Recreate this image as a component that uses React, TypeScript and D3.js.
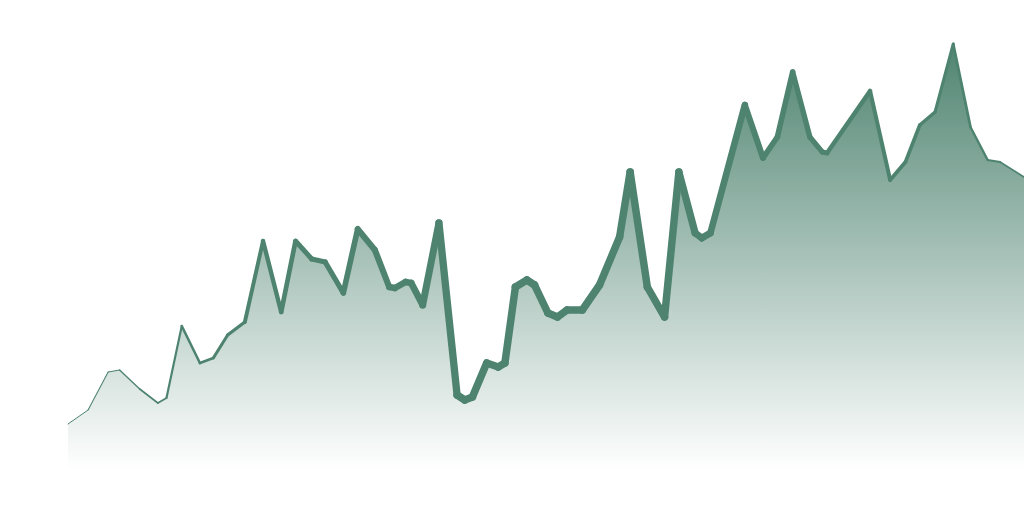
import React from 'react';
import * as d3 from 'd3';

// x position of each sample (0-100 across the chart)
const days = [
  0, 2.1, 4.2, 5.4, 7.5, 9.4, 10.3, 11.9, 13.8, 15.2, 16.7, 18.5, 20.4, 22.3, 23.8, 25.5, 26.9,
  28.8, 30.3, 32.1, 33.6, 34.2, 35.3, 35.9, 37.1, 38.8, 40.7, 41.5, 42.3, 43.8, 45.0, 45.7, 46.8,
  48.0, 48.8, 50.2, 51.2, 52.2, 53.8, 55.6, 57.7, 58.8, 60.6, 62.4, 63.9, 65.6, 66.3, 67.2, 70.8,
  72.7, 74.2, 75.8, 77.6, 78.9, 79.4, 83.9, 86.0, 87.6, 89.1, 90.7, 92.6, 94.4, 96.2, 97.5, 100,
];

// value series
const values = [
  11.5, 15, 24.5, 25, 20.25, 16.75, 18, 36, 26.75, 28, 33.75, 37, 57.25, 39.5, 57.25, 52.75, 52,
  44.25, 60.25, 55, 45.75, 45.5, 47, 46.75, 41.25, 61.75, 18.75, 17.5, 18.25, 26.75, 25.75, 26.75,
  45.75, 47.5, 46.25, 39.25, 38.25, 40, 40, 46.25, 58.25, 74.5, 45.75, 38.25, 74.5, 59.25, 58,
  59.25, 91.25, 78, 83.25, 99.5, 83.25, 79.5, 79.25, 94.75, 72.5, 77, 86.25, 89.5, 106.5, 85.75,
  77.5, 77, 73.25,
];

// secondary series, shown as line thickness
const volume = [
  0, 0, 2, 4, 8, 12, 14, 22, 26, 30, 34, 40, 50, 55, 58, 62, 64, 68, 74, 78, 82, 84, 86, 88, 90,
  94, 100, 100, 100, 100, 100, 100, 100, 100, 100, 100, 100, 100, 100, 100, 100, 100, 100, 100,
  98, 94, 92, 90, 84, 72, 70, 68, 66, 62, 60, 48, 44, 42, 38, 34, 30, 24, 18, 14, 8,
];

const W = 1024;
const H = 512;
const color = '#4e8370';

type Pt = { d: number; v: number; w: number };

export default function App() {
  const data: Pt[] = days.map((d, i) => ({ d, v: values[i], w: volume[i] }));

  const x = d3.scaleLinear().domain([0, 100]).range([68, 1024]);
  const y = d3.scaleLinear().domain([0, 110]).range([470, 30]);
  const sw = d3.scaleLinear().domain([0, 100]).range([1, 7.5]);

  const area = d3
    .area<Pt>()
    .x((p) => x(p.d))
    .y0(y(0))
    .y1((p) => y(p.v));

  const seg = d3
    .line<Pt>()
    .x((p) => x(p.d))
    .y((p) => y(p.v));

  // one piece per pair of points so the width can change along the line
  const segments = d3.pairs(data);

  return (
    <svg width={W} height={H} style={{ position: 'absolute', left: 0, top: 0 }}>
      <defs>
        <linearGradient id="fade" gradientUnits="userSpaceOnUse" x1={0} x2={0} y1={y(108)} y2={y(0)}>
          <stop offset="0%" stopColor={color} stopOpacity={1} />
          <stop offset="100%" stopColor={color} stopOpacity={0} />
        </linearGradient>
      </defs>
      <rect width={W} height={H} fill="#fff" />
      <path d={area(data) ?? ''} fill="url(#fade)" />
      {segments.map(([a, b], i) => (
        <path
          key={i}
          d={seg([a, b]) ?? ''}
          fill="none"
          stroke={color}
          strokeWidth={(sw(a.w) + sw(b.w)) / 2}
          strokeLinecap="round"
          strokeLinejoin="round"
        />
      ))}
    </svg>
  );
}
